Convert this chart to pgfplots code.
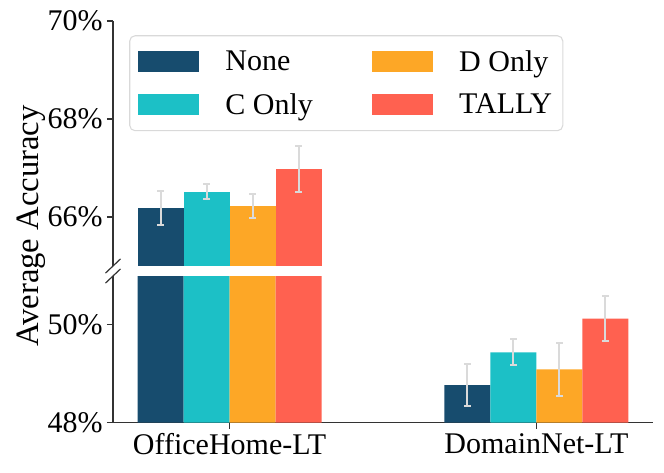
\documentclass[border=0pt]{standalone}
\usepackage{pgfplots}
\pgfplotsset{compat=1.18}
\usepackage{pgfplotstable}
\usepackage{fontspec}
\setmainfont{Liberation Serif}

\definecolor{cnone}{HTML}{174C6E}
\definecolor{ccon}{HTML}{1CC0C6}
\definecolor{cdon}{HTML}{FDA726}
\definecolor{ctal}{HTML}{FF6150}
\definecolor{spine}{HTML}{333333}
\definecolor{errc}{HTML}{DADADA}

\newcommand{\lbl}{\rmfamily\fontsize{22.5}{26}\selectfont}

% mean and std per setting
\pgfplotstableread{
x none noneerr conly conlyerr donly donlyerr tally tallyerr
0 66.18 0.35 66.52 0.15 66.22 0.25 66.98 0.47
1 48.77 0.43 49.44 0.27 49.09 0.54 50.13 0.46
}\accdata

\pgfplotsset{
  breakaxis/.style={
    scale only axis, width=405pt,
    xmin=-0.38, xmax=1.38,
    axis y line*=left,
    ybar, bar width=0.15,
    tick align=outside,
    major tick length=4.5pt,
    every axis plot/.append style={draw=none},
    error bars/y dir=both, error bars/y explicit,
    error bars/error bar style={draw=errc, line width=1.5pt},
    error bars/error mark options={rotate=90, draw=errc, mark size=2.5pt, line width=1.5pt},
    axis line style={draw=spine, line width=0.9pt},
    tick style={draw=spine, line width=0.9pt},
    tick label style={font=\lbl},
    yticklabel style={inner xsep=1.5pt, xshift=-1.5pt},
    /pgf/number format/assume math mode=true,
  },
}

\begin{document}
\begin{tikzpicture}
\path[use as bounding box] (-84.75pt,-37pt) rectangle (413.25pt,317pt);

% --- upper part (only OfficeHome-LT reaches it) ---
\begin{axis}[breakaxis, name=upper, at={(0,117.5pt)}, anchor=south west,
  height=183.75pt, ymin=65, ymax=70,
  restrict x to domain=-0.5:0.5,
  ytick={66,68,70}, yticklabels={66\%,68\%,70\%},
  axis x line=none,
  legend columns=2, transpose legend, legend cell align=left,
  legend image code/.code={\fill[#1,draw=none,sharp corners] (0pt,-7.875pt) rectangle (45.75pt,7.875pt);},
  legend style={at={(0.03,0.942)}, anchor=north west, draw=black!15,
    line width=0.8pt, rounded corners=4pt,
    font=\lbl,
    inner xsep=6pt, inner ysep=9pt, row sep=11pt,
    /tikz/every odd column/.append style={column sep=18pt},
    /tikz/every even column/.append style={column sep=42pt}},
  ]
  \addplot[fill=cnone, bar shift=-0.225] table[x=x, y=none, y error=noneerr] {\accdata};
  \addplot[fill=ccon, bar shift=-0.075] table[x=x, y=conly, y error=conlyerr] {\accdata};
  \addplot[fill=cdon, bar shift=0.075] table[x=x, y=donly, y error=donlyerr] {\accdata};
  \addplot[fill=ctal, bar shift=0.225] table[x=x, y=tally, y error=tallyerr] {\accdata};
  \legend{None, C Only, D Only, TALLY}
\end{axis}

% --- lower part ---
\begin{axis}[breakaxis, name=lower, at={(0,0)}, anchor=south west,
  height=110pt, ymin=48, ymax=51,
  ytick={48,50}, yticklabels={48\%,50\%},
  axis x line*=bottom,
  xtick={0,1}, xticklabels={OfficeHome-LT, DomainNet-LT},
  ]
  \addplot[fill=cnone, bar shift=-0.225] table[x=x, y=none, y error=noneerr] {\accdata};
  \addplot[fill=ccon, bar shift=-0.075] table[x=x, y=conly, y error=conlyerr] {\accdata};
  \addplot[fill=cdon, bar shift=0.075] table[x=x, y=donly, y error=donlyerr] {\accdata};
  \addplot[fill=ctal, bar shift=0.225] table[x=x, y=tally, y error=tallyerr] {\accdata};
\end{axis}

% break marks
\draw[spine, line width=0.9pt] (upper.south west) ++(-5.6pt,-5.3pt) -- ++(11.2pt,10.6pt);
\draw[spine, line width=0.9pt] (lower.north west) ++(-5.6pt,-5.3pt) -- ++(11.2pt,10.6pt);

\node[rotate=90, font=\rmfamily\fontsize{24.5}{28}\selectfont] at (-61.5pt,147.5pt) {Average Accuracy};
\end{tikzpicture}
\end{document}
